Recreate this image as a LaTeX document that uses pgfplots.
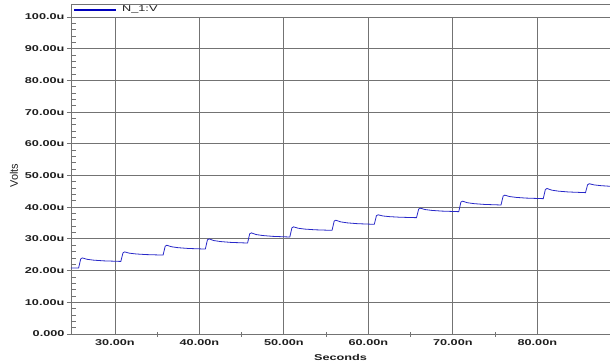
\documentclass[border=0pt]{standalone}
\usepackage{pgfplots}
\pgfplotsset{compat=1.18}
\usepackage{fontspec}
\setmainfont{Liberation Sans}
\newfontfamily\labfont{Liberation Sans}[FakeStretch=1.5]
\newfontfamily\vfont{Liberation Sans}
\definecolor{gridc}{RGB}{115,115,115}
\definecolor{curve}{RGB}{40,40,200}
\definecolor{legc}{RGB}{0,0,190}
\definecolor{txt}{RGB}{30,30,30}
\begin{document}
\begin{tikzpicture}
\begin{axis}[
  scale only axis,
  width=539bp, height=317bp,
  xmin=24.8, xmax=88.6,
  ymin=0, ymax=100,
  axis x line*=bottom, axis y line*=left,
  axis line style={gridc, line width=0.8bp, -},
  xtick={30,40,50,60,70,80},
  xticklabels={30.00n,40.00n,50.00n,60.00n,70.00n,80.00n},
  ytick={0,10,20,30,40,50,60,70,80,90,100},
  yticklabels={0.000,10.00u,20.00u,30.00u,40.00u,50.00u,60.00u,70.00u,80.00u,90.00u,100.0u},
  minor x tick num=1,
  minor y tick num=4,
  tick align=inside,
  major tick length=4bp,
  minor tick length=5bp,
  tick style={gridc, line width=0.8bp},
  minor x tick style={yshift=-2.5bp},
  major y tick style={xshift=-4bp},
  major grid style={gridc, line width=0.8bp},
  grid=major,
  ticklabel style={font=\labfont\bfseries\fontsize{8.5}{9}\selectfont, text=txt},
  xticklabel style={yshift=-2.5bp},
  yticklabel style={xshift=-3bp},
  xlabel={\labfont\bfseries\fontsize{8.5}{9}\selectfont Seconds},
  xlabel style={at={(rel axis cs:0.5,0)}, anchor=north, yshift=-20bp, text=txt, inner sep=0pt},
  clip=false,
  legend style={at={(rel axis cs:0,1)}, anchor=south west, draw=none, fill=none,
    inner sep=0pt, xshift=2bp, yshift=1.5bp,
    font=\labfont\fontsize{8.5}{9}\selectfont, text=txt},
  legend image code/.code={\draw[#1] (0bp,0bp) -- (42bp,0bp);},
  legend cell align=left,
]
\addlegendimage{legc, line width=2bp}
\addlegendentry{\hspace{3bp}N\_1:V}
\addplot[curve, line width=0.8bp, forget plot] coordinates {
(24.8,20.8)
(25.7,20.8) (25.95,23.7) (26.15,24.0) (26.7,23.56) (27.5,23.29) (28.7,23.07) (30.65,22.9)
(30.7,22.9) (30.95,25.6) (31.15,25.9) (31.7,25.5) (32.5,25.25) (33.7,25.05) (35.65,24.9)
(35.7,24.9) (35.95,27.7) (36.15,28.0) (36.7,27.52) (37.5,27.22) (38.7,26.98) (40.65,26.8)
(40.7,26.8) (40.95,29.7) (41.15,30.0) (41.7,29.48) (42.5,29.16) (43.7,28.9) (45.65,28.7)
(45.7,28.7) (45.95,31.6) (46.15,31.9) (46.7,31.38) (47.5,31.06) (48.7,30.8) (50.65,30.6)
(50.7,30.6) (50.95,33.5) (51.15,33.8) (51.7,33.36) (52.5,33.09) (53.7,32.87) (55.65,32.7)
(55.7,32.7) (55.95,35.6) (56.15,35.9) (56.7,35.38) (57.5,35.06) (58.7,34.8) (60.65,34.6)
(60.7,34.6) (60.95,37.3) (61.15,37.6) (61.7,37.24) (62.5,37.02) (63.7,36.84) (65.65,36.7)
(65.7,36.7) (65.95,39.4) (66.15,39.7) (66.7,39.26) (67.5,38.99) (68.7,38.77) (70.65,38.6)
(70.7,38.6) (70.95,41.6) (71.15,41.9) (71.7,41.42) (72.5,41.12) (73.7,40.88) (75.65,40.7)
(75.7,40.7) (75.95,43.5) (76.15,43.8) (76.7,43.36) (77.5,43.09) (78.7,42.87) (80.65,42.7)
(80.7,42.7) (80.95,45.6) (81.15,45.9) (81.7,45.38) (82.5,45.06) (83.7,44.8) (85.65,44.6)
(85.7,44.6) (85.95,47.1) (86.15,47.4) (86.7,47.04) (87.5,46.8) (88.6,46.6)
};
\draw[gridc, line width=0.8bp] (rel axis cs:0,1) -- ([yshift=13bp]rel axis cs:0,1) -- ([yshift=13bp]rel axis cs:1,1);
\node[rotate=90, text=txt, inner sep=0pt, font=\vfont\fontsize{11}{12}\selectfont] at ([xshift=-57bp]rel axis cs:0,0.5) {Volts};
\end{axis}
\pgfresetboundingbox
\path[use as bounding box] (current axis.south west) ++(-71bp,-30bp) rectangle ++(610bp,364bp);
\end{tikzpicture}
\end{document}
